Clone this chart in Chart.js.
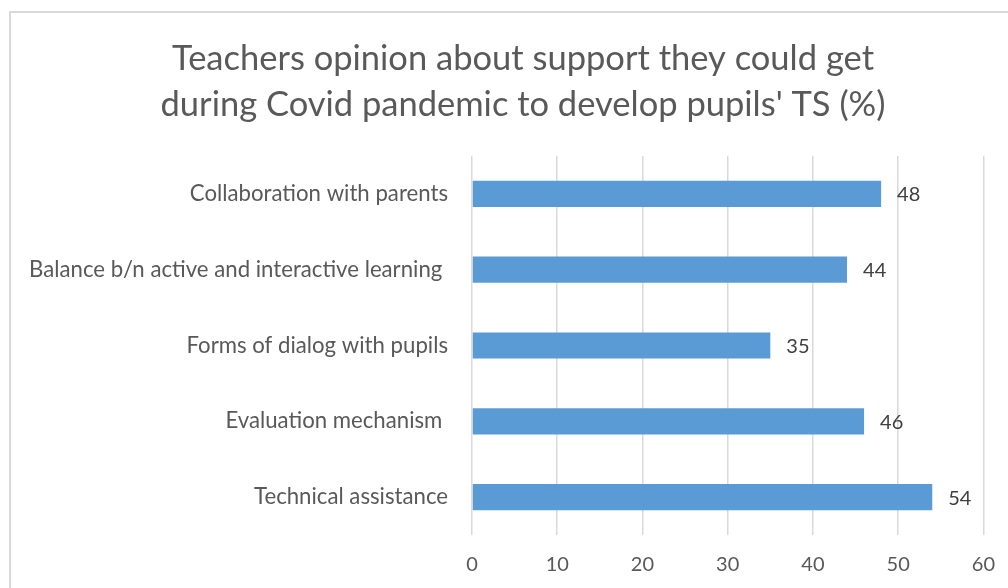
<!DOCTYPE html>
<html>
<head>
<meta charset="utf-8">
<script src="https://cdn.jsdelivr.net/npm/chart.js@4/dist/chart.umd.min.js"></script>
<style>
  html, body { margin: 0; padding: 0; background: #fff; overflow: hidden; }
  #frame {
    position: absolute; left: 9px; top: 11px; width: 1100px; height: 700px;
    border-left: 2px solid #d9d9d9; border-top: 2px solid #d9d9d9;
  }
  #wrap { position: absolute; left: 0; top: 0; width: 1013px; height: 603px; }
</style>
</head>
<body>
<div id="frame"></div>
<div id="wrap"><canvas id="chart"></canvas></div>
<script>
const categories = [
    'Collaboration with parents',
    'Balance b/n active and interactive learning ',
    'Forms of dialog with pupils',
    'Evaluation mechanism ',
    'Technical assistance',
];
const values = [48, 44, 35, 46, 54];
const tickValues = [0, 10, 20, 30, 40, 50, 60];
const titleLines = [
    'Teachers opinion about support they could get',
    "during Covid pandemic to develop pupils' TS (%)",
];

const FONT = 'Lato, "Open Sans", sans-serif';

// title centred on the outer frame rather than on the canvas
const frameTitle = {
    id: 'frameTitle',
    afterDraw(chart) {
        const ctx = chart.ctx;
        ctx.save();
        ctx.font = '34.5px ' + FONT;
        ctx.fillStyle = '#595959';
        ctx.textAlign = 'center';
        ctx.textBaseline = 'middle';
        titleLines.forEach((line, i) => ctx.fillText(line, 523, 59 + i * 46));
        ctx.restore();
    }
};

// draws the value next to the end of each bar
const valueLabels = {
    id: 'valueLabels',
    afterDatasetsDraw(chart) {
        const ctx = chart.ctx;
        ctx.save();
        ctx.font = '20px ' + FONT;
        ctx.fillStyle = '#404040';
        ctx.textAlign = 'left';
        ctx.textBaseline = 'middle';
        chart.getDatasetMeta(0).data.forEach((bar, i) => {
            ctx.fillText(String(values[i]), bar.x + 16, bar.y + 1);
        });
        ctx.restore();
    }
};

new Chart(document.getElementById('chart'), {
    type: 'bar',
    data: {
        labels: categories,
        datasets: [{
            data: values,
            backgroundColor: '#5b9bd5',
            categoryPercentage: 1,
            barPercentage: 0.345,
        }],
    },
    options: {
        indexAxis: 'y',
        responsive: true,
        maintainAspectRatio: false,
        animation: false,
        layout: { padding: { left: 0, right: 19, top: 156, bottom: 8 } },
        plugins: {
            legend: { display: false },
            tooltip: { enabled: false },
            title: { display: false },
        },
        scales: {
            x: {
                min: 0,
                max: 60,
                afterBuildTicks(scale) {
                    scale.ticks = tickValues.map(v => ({ value: v }));
                },
                grid: { color: '#d9d9d9', lineWidth: 1.5, drawTicks: false },
                border: { display: false },
                ticks: {
                    color: '#595959',
                    font: { family: FONT, size: 20 },
                    padding: 18,
                    maxRotation: 0,
                },
            },
            y: {
                afterFit(scale) { scale.width = 472; },
                grid: { display: false },
                border: { display: false },
                ticks: {
                    color: '#595959',
                    font: { family: FONT, size: 22.2 },
                    padding: 16,
                },
            },
        },
    },
    plugins: [valueLabels, frameTitle],
});
</script>
</body>
</html>
